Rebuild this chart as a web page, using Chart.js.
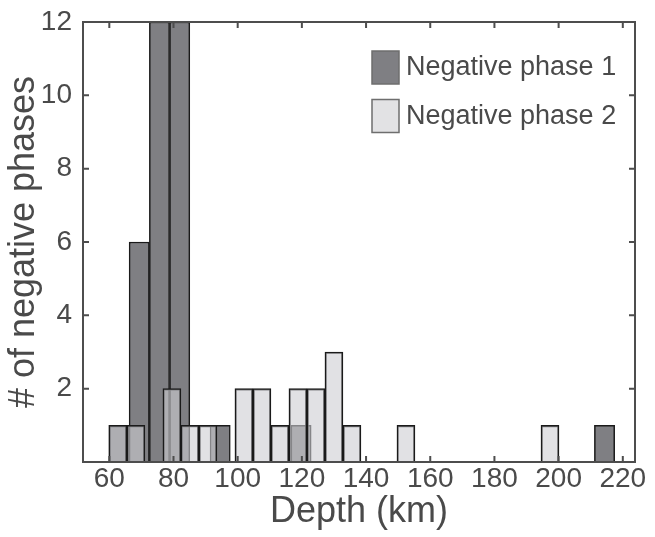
<!DOCTYPE html>
<html>
<head>
<meta charset="utf-8">
<script src="https://cdn.jsdelivr.net/npm/chart.js@4/dist/chart.umd.min.js"></script>
<style>
  html, body { margin: 0; padding: 0; background: #fff; }
  #wrap { width: 655px; height: 537px; }
</style>
</head>
<body>
<div id="wrap"><canvas id="myChart" width="655" height="537"></canvas></div>
<script>
// Histogram bins: bin centres (km) and counts.
const phase1Centers = [63.02, 69.32, 75.63, 81.93, 94.54, 119.75, 214.31];
const phase1Counts  = [1, 6, 12, 12, 1, 1, 1];
const phase1BinWidth = 6.3;   // km

const phase2Centers = [62.67, 68.28, 79.50, 85.11, 90.72, 101.94, 107.55, 113.16,
                       118.77, 124.38, 129.99, 135.60, 152.43, 197.31];
const phase2Counts  = [1, 1, 2, 1, 1, 2, 2, 1, 2, 2, 3, 1, 1, 1];
const phase2BinWidth = 5.61;  // km

const seriesLabels = ['Negative phase 1', 'Negative phase 2'];
const xTicks = [60, 80, 100, 120, 140, 160, 180, 200, 220];
const yTicks = [2, 4, 6, 8, 10, 12];
const xRange = [51.8, 223.8];
const yRange = [0, 12];

const FONT = "'Liberation Sans', Arial, Helvetica, sans-serif";
const textColor = '#4a4a4a';
const axisColor = '#4d4d4d';

// bar width in pixels from a bin width in km
const binPixels = (w) => (ctx) => {
    const s = ctx.chart.scales.x;
    return Math.abs(s.getPixelForValue(xRange[0] + w) - s.getPixelForValue(xRange[0]));
};

// box around the plot with inward ticks on all four sides
const framePlugin = {
    id: 'frame',
    afterDraw(chart) {
        const {ctx, chartArea: a, scales: {x, y}} = chart;
        const len = 6;
        ctx.save();
        ctx.strokeStyle = axisColor;
        ctx.lineWidth = 2;
        ctx.beginPath();
        xTicks.forEach(v => {
            const px = x.getPixelForValue(v);
            ctx.moveTo(px, a.bottom); ctx.lineTo(px, a.bottom - len);
            ctx.moveTo(px, a.top); ctx.lineTo(px, a.top + len);
        });
        yTicks.forEach(v => {
            const py = y.getPixelForValue(v);
            ctx.moveTo(a.left, py); ctx.lineTo(a.left + len, py);
            ctx.moveTo(a.right, py); ctx.lineTo(a.right - len, py);
        });
        ctx.stroke();
        ctx.strokeRect(a.left, a.top, a.right - a.left, a.bottom - a.top);
        ctx.restore();
    }
};

// legend drawn inside the plot, top right
const legendPlugin = {
    id: 'insideLegend',
    afterDraw(chart, args, opts) {
        const {ctx, chartArea: a} = chart;
        const x0 = a.right - 263, y0 = a.top + 29;
        ctx.save();
        ctx.font = '27px ' + FONT;
        ctx.textBaseline = 'middle';
        chart.data.datasets.forEach((ds, i) => {
            const y = y0 + i * 48.5;
            ctx.fillStyle = opts.boxColors[i];
            ctx.fillRect(x0, y, 27, 33);
            ctx.strokeStyle = '#6e6e6e';
            ctx.lineWidth = 1.5;
            ctx.strokeRect(x0, y, 27, 33);
            ctx.fillStyle = textColor;
            ctx.fillText(ds.label, x0 + 34, y + 17);
        });
        ctx.restore();
    }
};

const ctx = document.getElementById('myChart').getContext('2d');
const chart = new Chart(ctx, {
    type: 'bar',
    data: {
        datasets: [{
            label: seriesLabels[0],
            data: phase1Centers.map((c, i) => ({x: c, y: phase1Counts[i]})),
            backgroundColor: 'rgb(127,127,131)',
            borderColor: '#1a1a1a',
            borderWidth: 1.5,
            grouped: false,
            barThickness: binPixels(phase1BinWidth),
            order: 2
        }, {
            label: seriesLabels[1],
            data: phase2Centers.map((c, i) => ({x: c, y: phase2Counts[i]})),
            backgroundColor: 'rgba(205,205,210,0.6)',
            borderColor: '#1a1a1a',
            borderWidth: 1.5,
            grouped: false,
            barThickness: binPixels(phase2BinWidth),
            order: 1
        }]
    },
    options: {
        responsive: false,
        animation: false,
        layout: { padding: { top: 22, right: 20, left: 0, bottom: 0 } },
        plugins: {
            legend: { display: false },
            tooltip: { enabled: false },
            insideLegend: { boxColors: ['#7f7f83', '#e2e2e4'] }
        },
        scales: {
            x: {
                type: 'linear',
                offset: false,
                min: xRange[0],
                max: xRange[1],
                grid: { display: false, offset: false },
                border: { display: false },
                afterBuildTicks: s => { s.ticks = xTicks.map(v => ({value: v})); },
                afterFit: s => { s.height = 75; },
                ticks: {
                    autoSkip: false, maxRotation: 0, padding: -8,
                    color: textColor, font: { family: FONT, size: 28 }
                },
                title: {
                    display: true, text: 'Depth (km)', color: textColor,
                    font: { family: FONT, size: 36 }, padding: { top: 0, bottom: 3 }
                }
            },
            y: {
                min: yRange[0],
                max: yRange[1],
                grid: { display: false },
                border: { display: false },
                afterBuildTicks: s => { s.ticks = yTicks.map(v => ({value: v})); },
                afterFit: s => { s.width = 83; },
                ticks: {
                    padding: 3, color: textColor, font: { family: FONT, size: 28 }
                },
                title: {
                    display: true, text: '# of negative phases', color: textColor,
                    font: { family: FONT, size: 36 }, padding: { top: 2, bottom: 0 }
                }
            }
        }
    },
    plugins: [framePlugin, legendPlugin]
});
</script>
</body>
</html>
